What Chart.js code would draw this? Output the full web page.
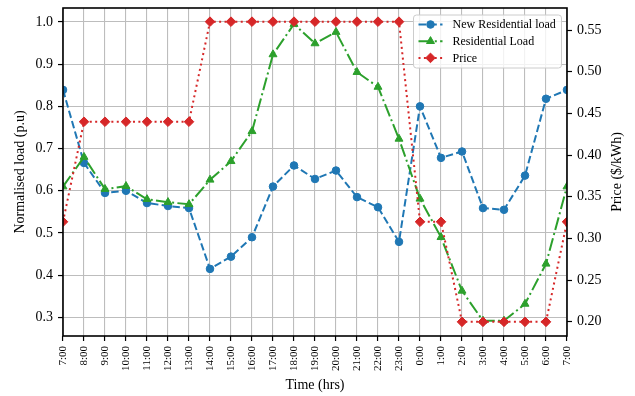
<!DOCTYPE html>
<html>
<head>
<meta charset="utf-8">
<script src="https://cdn.jsdelivr.net/npm/chart.js@4"></script>
<style>
  html, body { margin: 0; padding: 0; background: #fff; }
  #wrap { width: 635px; height: 396px; }
</style>
</head>
<body>
<div id="wrap"><canvas id="loadChart"></canvas></div>
<script>
const hours = ['7:00', '8:00', '9:00', '10:00', '11:00', '12:00', '13:00', '14:00', '15:00', '16:00',
  '17:00', '18:00', '19:00', '20:00', '21:00', '22:00', '23:00', '0:00', '1:00', '2:00', '3:00',
  '4:00', '5:00', '6:00', '7:00'];
const newResidential = [0.839, 0.666, 0.595, 0.600, 0.571, 0.564, 0.559, 0.415, 0.444, 0.490,
  0.610, 0.660, 0.628, 0.648, 0.585, 0.561, 0.479, 0.800, 0.678, 0.693, 0.559, 0.555, 0.636, 0.818, 0.839];
const residential = [0.610, 0.680, 0.604, 0.611, 0.580, 0.573, 0.568, 0.626, 0.670, 0.741,
  0.923, 0.995, 0.949, 0.976, 0.881, 0.846, 0.723, 0.581, 0.490, 0.363, 0.292, 0.292, 0.332, 0.427, 0.610];
const price = [0.32, 0.44, 0.44, 0.44, 0.44, 0.44, 0.44, 0.56, 0.56, 0.56, 0.56, 0.56, 0.56, 0.56,
  0.56, 0.56, 0.56, 0.32, 0.32, 0.20, 0.20, 0.20, 0.20, 0.20, 0.32];
const loadTicks = [0.3, 0.4, 0.5, 0.6, 0.7, 0.8, 0.9, 1.0];
const priceTicks = [0.20, 0.25, 0.30, 0.35, 0.40, 0.45, 0.50, 0.55];

const SERIF = "'Liberation Serif', 'Times New Roman', serif";

// black box round the plot plus the right-hand axis title (read bottom to top)
const framePlugin = {
  id: 'frame',
  afterDatasetsDraw(chart) {
    const {ctx, chartArea: a} = chart;
    ctx.save();
    ctx.strokeStyle = '#000';
    ctx.lineWidth = 1.6;
    ctx.strokeRect(a.left, a.top, a.right - a.left, a.bottom - a.top);
    ctx.restore();
  },
  afterDraw(chart) {
    const {ctx, chartArea: a} = chart;
    ctx.save();
    ctx.translate(617, (a.top + a.bottom) / 2);
    ctx.rotate(-Math.PI / 2);
    ctx.font = '14px ' + SERIF;
    ctx.fillStyle = '#000';
    ctx.textAlign = 'center';
    ctx.textBaseline = 'middle';
    ctx.fillText('Price ($/kWh)', 0, 0);
    ctx.restore();
  }
};

// legend box in the top right corner, line sample + marker like matplotlib
const boxLegend = {
  id: 'boxLegend',
  afterDraw(chart) {
    const {ctx, chartArea: a} = chart;
    const sets = chart.data.datasets;
    const w = 148, h = 53;
    const x0 = a.right - 5.5 - w, y0 = a.top + 7;
    ctx.save();
    ctx.beginPath();
    ctx.roundRect(x0, y0, w, h, 3);
    ctx.fillStyle = 'rgba(255,255,255,0.8)';
    ctx.fill();
    ctx.strokeStyle = '#cccccc';
    ctx.lineWidth = 1;
    ctx.stroke();
    ctx.font = '12px ' + SERIF;
    ctx.textBaseline = 'middle';
    sets.forEach((ds, i) => {
      const y = y0 + 9.5 + i * 16.7;
      ctx.strokeStyle = ds.borderColor;
      ctx.lineWidth = ds.borderWidth;
      ctx.setLineDash(ds.borderDash);
      ctx.beginPath();
      ctx.moveTo(x0 + 5, y);
      ctx.lineTo(x0 + 29, y);
      ctx.stroke();
      ctx.setLineDash([]);
      ctx.fillStyle = ds.borderColor;
      ctx.lineWidth = 1;
      Chart.helpers.drawPoint(ctx, {pointStyle: ds.pointStyle, radius: ds.pointRadius, rotation: 0, borderWidth: 1}, x0 + 17, y);
      ctx.fillStyle = '#000';
      ctx.fillText(ds.label, x0 + 39, y + 0.5);
    });
    ctx.restore();
  }
};

// fixed axis widths, and no extra room reserved for the end tick labels
const fitY = (width) => (scale) => {
  scale.width = width;
  scale.paddingTop = 0;
  scale.paddingBottom = 0;
};

const ctx = document.getElementById('loadChart');
new Chart(ctx, {
  type: 'line',
  data: {
    labels: hours,
    datasets: [{
      label: 'New Residential load',
      data: newResidential,
      yAxisID: 'y',
      borderColor: '#1f77b4',
      backgroundColor: '#1f77b4',
      borderWidth: 2,
      borderDash: [7.5, 3.3],
      pointStyle: 'circle',
      pointRadius: 3.8,
      pointBorderWidth: 1,
      order: 3,
      clip: 0
    }, {
      label: 'Residential Load',
      data: residential,
      yAxisID: 'y',
      borderColor: '#2ca02c',
      backgroundColor: '#2ca02c',
      borderWidth: 2,
      borderDash: [13, 3.3, 2, 3.3],
      pointStyle: 'triangle',
      pointRadius: 4.6,
      pointBorderWidth: 1,
      order: 2,
      clip: 0
    }, {
      label: 'Price',
      data: price,
      yAxisID: 'y1',
      borderColor: '#d62728',
      backgroundColor: '#d62728',
      borderWidth: 2,
      borderDash: [2, 3.4],
      pointStyle: 'rectRot',
      pointRadius: 4.8,
      pointBorderWidth: 1,
      order: 1,
      clip: 0
    }]
  },
  options: {
    responsive: true,
    maintainAspectRatio: false,
    animation: false,
    layout: { padding: { top: 8, left: 0, right: 0, bottom: 0 } },
    plugins: {
      legend: { display: false },
      tooltip: { enabled: false }
    },
    elements: { line: { tension: 0 } },
    scales: {
      x: {
        offset: false,
        afterFit: (scale) => { scale.height = 60; },
        grid: { offset: false, color: '#bdbdbd', lineWidth: 1.1, tickColor: '#000', tickLength: 5, tickWidth: 1.2 },
        border: { display: false },
        ticks: {
          autoSkip: false, maxRotation: 90, minRotation: 90, padding: 5,
          color: '#000', font: { family: SERIF, size: 11 }
        },
        title: {
          display: true, text: 'Time (hrs)', color: '#000',
          font: { family: SERIF, size: 14 }, padding: { top: 0, bottom: 2 }
        }
      },
      y: {
        position: 'left',
        min: 0.256,
        max: 1.033,
        afterFit: fitY(63),
        afterBuildTicks: (scale) => { scale.ticks = loadTicks.map(v => ({ value: v })); },
        grid: { color: '#bdbdbd', lineWidth: 1.1, tickColor: '#000', tickLength: 5, tickWidth: 1.2 },
        border: { display: false },
        ticks: {
          padding: 5, color: '#000', font: { family: SERIF, size: 14 },
          callback: (v) => Number(v).toFixed(1)
        },
        title: {
          display: true, text: 'Normalised load (p.u)', color: '#000',
          font: { family: SERIF, size: 14 }, padding: { top: 12, bottom: 0 }
        }
      },
      y1: {
        position: 'right',
        min: 0.183,
        max: 0.5764,
        afterFit: fitY(68),
        afterBuildTicks: (scale) => { scale.ticks = priceTicks.map(v => ({ value: v })); },
        grid: { drawOnChartArea: false, tickColor: '#000', tickLength: 5, tickWidth: 1.2 },
        border: { display: false },
        ticks: {
          padding: 5, color: '#000', font: { family: SERIF, size: 14 },
          callback: (v) => Number(v).toFixed(2)
        }
      }
    }
  },
  plugins: [framePlugin, boxLegend]
});
</script>
</body>
</html>
